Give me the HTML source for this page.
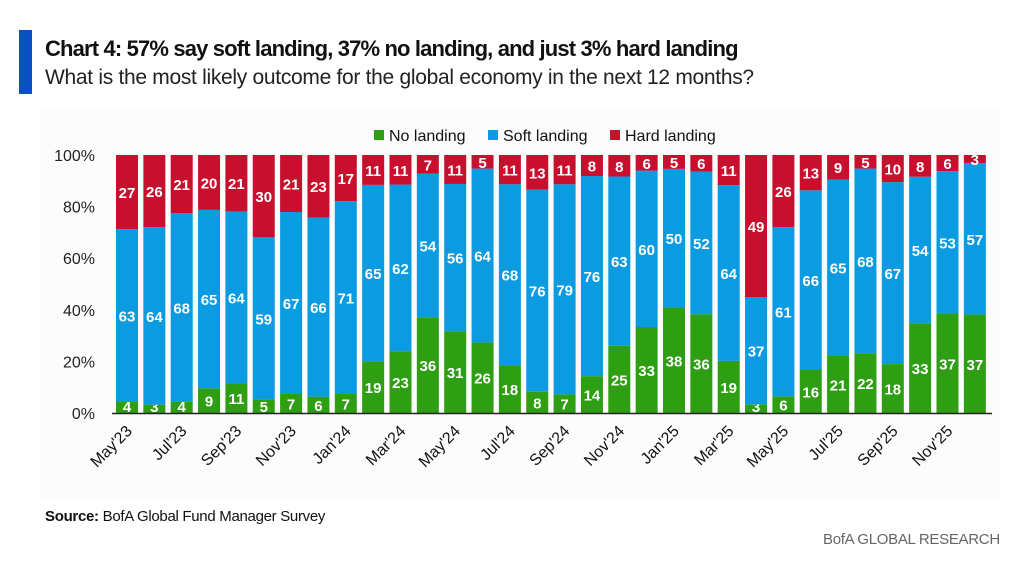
<!DOCTYPE html>
<html><head><meta charset="utf-8"><style>
body{margin:0;width:1024px;height:565px;background:#fff;font-family:"Liberation Sans",sans-serif;overflow:hidden;position:relative}
.t{position:absolute;white-space:nowrap}
</style></head><body>
<div style="position:absolute;left:19px;top:30px;width:13px;height:64px;background:#0a4fc4"></div>
<div class="t" style="left:45px;top:36px;font-size:22px;font-weight:bold;color:#111;letter-spacing:-0.85px">Chart 4: 57% say soft landing, 37% no landing, and just 3% hard landing</div>
<div class="t" style="left:45px;top:66px;font-size:21px;color:#222;letter-spacing:-0.3px">What is the most likely outcome for the global economy in the next 12 months?</div>
<div style="position:absolute;left:40px;top:110px;width:960px;height:390px;background:#fcfcfc"></div>
<svg id="chart" width="1024" height="565" style="position:absolute;left:0;top:0" font-family="Liberation Sans, sans-serif"></svg>
<div class="t" style="left:45px;top:508px;font-size:15px;color:#111;letter-spacing:-0.3px"><b>Source:</b> BofA Global Fund Manager Survey</div>
<div class="t" style="left:823px;top:531px;font-size:15px;color:#666;letter-spacing:-0.3px">BofA GLOBAL RESEARCH</div>
<script>
const months=["May'23","Jun'23","Jul'23","Aug'23","Sep'23","Oct'23","Nov'23","Dec'23","Jan'24","Feb'24","Mar'24","Apr'24","May'24","Jun'24","Jul'24","Aug'24","Sep'24","Oct'24","Nov'24","Dec'24","Jan'25","Feb'25","Mar'25","Apr'25","May'25","Jun'25","Jul'25","Aug'25","Sep'25","Oct'25","Nov'25","Dec'25"];
const noLanding=[4,3,4,9,11,5,7,6,7,19,23,36,31,26,18,8,7,14,25,33,38,36,19,3,6,16,21,22,18,33,37,37];
const softLanding=[63,64,68,65,64,59,67,66,71,65,62,54,56,64,68,76,79,76,63,60,50,52,64,37,61,66,65,68,67,54,53,57];
const hardLanding=[27,26,21,20,21,30,21,23,17,11,11,7,11,5,11,13,11,8,8,6,5,6,11,49,26,13,9,5,10,8,6,3];
const yTicks=[0,20,40,60,80,100];
const NS="http://www.w3.org/2000/svg",svg=document.getElementById('chart');
const x0=116,step=27.35,bw=22,yTop=155,yBot=413;
const y=v=>yBot-(v/100)*(yBot-yTop);
const xb=i=>x0+i*step;
function mk(t,a){const e=document.createElementNS(NS,t);for(const k in a)e.setAttribute(k,a[k]);svg.appendChild(e);return e;}
yTicks.forEach(v=>{const e=mk('text',{x:95,y:y(v)+6,'text-anchor':'end','font-size':16,fill:'#222'});e.textContent=v+'%';

});
const series=[[noLanding,'#2e9e12','no-landing'],[softLanding,'#0a9be0','soft-landing'],[hardLanding,'#c8102e','hard-landing']];
months.forEach((m,i)=>{
  const tot=noLanding[i]+softLanding[i]+hardLanding[i];
  const scale=100/tot;
  let cum=0;
  series.forEach(([arr,col,nm],s)=>{
    const v=arr[i];
    const h=v*scale;
    const top=cum+h;
    const r=mk('rect',{x:xb(i),y:y(top),width:bw,height:y(cum)-y(top),fill:col});
    
    
    let ty=(y(cum)+y(top))/2+6;
    if(ty>yBot-1)ty=yBot-1;
    const t=mk('text',{x:xb(i)+bw/2,y:ty,'text-anchor':'middle','font-size':15,'font-weight':'bold',fill:'#fff'});
    t.textContent=v;
    
    
    cum=top;
  });
  if(i%2==0){
    const cx=xb(i)+bw/2+6,cy=432;
    const t=mk('text',{x:cx,y:cy,'text-anchor':'end','font-size':16,fill:'#111',transform:`rotate(-45 ${cx} ${cy})`});
    t.textContent=m;
    
    
  }
});
const ax=mk('line',{x1:112,x2:992,y1:yBot+0.5,y2:yBot+0.5,stroke:'#222','stroke-width':1.5});


const leg=[['No landing','#2e9e12',374],['Soft landing','#0a9be0',488],['Hard landing','#c8102e',610]];
leg.forEach(([l,c,lx])=>{
  const r=mk('rect',{x:lx,y:130,width:10,height:10,fill:c});
  
  
  const t=mk('text',{x:lx+15,y:141,'font-size':16,fill:'#111'});t.textContent=l;
  
  
});
</script>
</body></html>
